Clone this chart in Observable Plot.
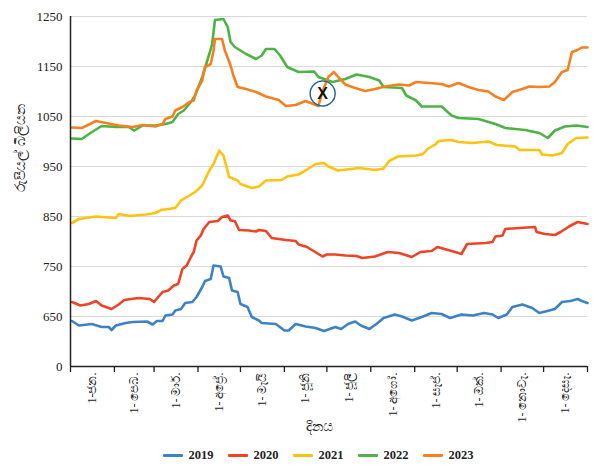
<!DOCTYPE html>
<html>
<head>
<meta charset="utf-8">
<script src="https://cdn.jsdelivr.net/npm/d3@7"></script>
<script src="https://cdn.jsdelivr.net/npm/@observablehq/plot@0.6"></script>
<style>
  body { margin: 0; background: #fff; }
  #legend { display: flex; justify-content: center; height: 30px; align-items: center; font-family: "Liberation Serif", serif; font-weight: bold; font-size: 12.5px; color: #222; padding-left: 38px; }
  .item { display: flex; align-items: center; margin: 0 7px; }
  .sw { width: 20px; height: 3px; margin-right: 6px; border-radius: 1px; }
</style>
</head>
<body>
<div id="chart"></div>
<div id="legend"></div>
<script>
const seriesNames = ["2019", "2020", "2021", "2022", "2023"];
const seriesColors = ["#3d82c7", "#ef4324", "#ffc20e", "#4cb444", "#f6801f"];

const yTicks = [550, 650, 750, 850, 950, 1050, 1150, 1250];
const yTickLabels = ["0", "650", "750", "850", "950", "1050", "1150", "1250"];
const monthStarts = [0, 31, 59, 90, 120, 151, 181, 212, 243, 273, 304, 334, 365];
const monthMids = [15.5, 45, 74.5, 105, 135.5, 166, 196.5, 227.5, 258, 288.5, 319, 349.5];
const monthLabels = ["1-ජන.", "1- පෙබ.", "1- මාර්.", "1- අප්‍රේ.", "1- මැයි", "1- ජූනි", "1- ජූලි", "1- අගෝ.", "1- සැප්.", "1- ඔක්.", "1- නොවැ.", "1- දෙසැ."];

const days2019 = [1,6,15,22,27,29,32,39,44,54,58,61,65,67,72,74,78,81,86,89,93,95,99,101,106,108,112,114,118,120,125,128,133,135,145,151,154,159,166,173,179,182,187,191,196,201,205,211,216,221,229,234,241,248,255,262,268,276,284,292,298,302,308,312,319,326,331,338,342,347,353,358,361,365];
const values2019 = [641,632,635,629,629,623,632,637,639,640,634,641,641,652,654,662,665,677,679,689,709,721,725,752,750,730,727,702,699,675,669,649,642,637,635,622,622,635,630,627,621,624,629,625,635,640,632,625,635,647,654,650,642,649,657,655,647,654,652,657,654,647,654,669,674,667,657,662,665,679,681,685,681,677];

const days2020 = [1,7,13,18,22,29,34,38,48,56,59,65,69,73,76,79,82,85,87,89,92,94,98,104,107,111,113,116,119,126,131,133,138,142,152,159,161,167,171,178,181,187,194,202,206,215,224,232,241,247,255,259,274,276,280,293,298,300,305,307,317,328,329,335,342,346,352,358,365];
const values2020 = [679,672,675,681,672,665,674,683,687,685,679,699,702,712,715,745,752,769,779,802,812,825,839,841,849,852,842,841,823,822,820,823,821,807,803,801,794,789,782,770,774,774,772,771,767,770,779,777,769,779,781,789,777,775,795,797,799,810,812,825,827,829,819,815,813,819,830,839,835];

const days2021 = [1,6,18,32,34,42,53,60,64,74,78,84,88,93,98,101,105,108,112,118,120,128,133,138,149,153,161,166,173,179,182,189,204,215,221,225,231,244,249,252,258,260,269,274,284,295,301,314,317,331,333,340,347,351,357,365];
const values2021 = [837,845,850,847,855,851,854,857,863,867,882,892,899,912,942,955,982,972,929,922,915,907,910,922,923,930,934,942,955,957,950,942,947,943,946,961,970,972,975,985,995,1001,1003,999,997,1000,993,990,983,983,974,972,977,995,1007,1008];

const days2022 = [1,8,13,18,22,32,41,45,51,60,67,72,76,80,85,88,93,98,100,102,108,111,113,116,124,131,135,138,144,148,153,161,172,175,182,185,194,202,211,218,221,234,237,244,248,262,269,274,288,300,307,321,331,337,342,349,357,365];
const values2022 = [1006,1005,1015,1024,1031,1029,1029,1022,1032,1032,1035,1039,1055,1062,1079,1092,1129,1175,1195,1243,1245,1229,1199,1189,1175,1165,1172,1185,1185,1172,1149,1139,1140,1129,1122,1119,1125,1134,1129,1122,1109,1107,1092,1082,1070,1070,1052,1047,1045,1035,1027,1023,1017,1007,1022,1030,1032,1029];

const days2023 = [1,8,18,25,34,44,51,60,65,67,72,74,79,84,87,89,93,95,99,101,102,107,109,113,115,118,124,131,138,147,152,159,166,175,178,182,186,189,194,201,208,215,222,232,239,244,253,262,267,274,281,288,295,300,306,312,319,324,331,338,342,347,351,354,358,361,365];
const values2023 = [1028,1027,1041,1037,1032,1029,1033,1030,1035,1045,1050,1062,1069,1079,1082,1102,1122,1149,1155,1182,1205,1205,1182,1152,1132,1109,1105,1099,1090,1083,1071,1073,1081,1071,1100,1129,1139,1129,1114,1107,1101,1105,1110,1114,1112,1119,1117,1115,1110,1117,1109,1103,1100,1090,1083,1099,1105,1110,1109,1110,1119,1139,1143,1179,1183,1188,1188];

const markerDay = 178;
const markerValue = 1096;

const allDays = [days2019, days2020, days2021, days2022, days2023];
const allValues = [values2019, values2020, values2021, values2022, values2023];
const rows = [];
seriesNames.forEach((s, k) => {
  allDays[k].forEach((d, i) => rows.push({series: s, day: d, value: allValues[k][i]}));
});

const chart = Plot.plot({
  width: 598,
  height: 440,
  marginLeft: 70,
  marginRight: 11,
  marginTop: 16,
  marginBottom: 74,
  style: {background: "#fff", color: "#222", fontFamily: "Liberation Serif, Times New Roman, serif"},
  x: {domain: [0, 365], axis: null},
  y: {domain: [550, 1250], axis: null},
  color: {domain: seriesNames, range: seriesColors},
  marks: [
    Plot.ruleY(yTicks.slice(1), {stroke: "#d9d9d9", strokeWidth: 1.2}),
    Plot.line(rows, {x: "day", y: "value", z: "series", stroke: "series", strokeWidth: 2.6, strokeLinejoin: "round"}),
    Plot.ruleY([550], {stroke: "#222", strokeWidth: 1.5}),
    Plot.ruleX([0], {stroke: "#222", strokeWidth: 1.5}),
    Plot.axisY({ticks: yTicks, tickSize: 0, tickPadding: 8, label: null, tickFormat: d => yTickLabels[yTicks.indexOf(d)], fontSize: 13}),
    Plot.axisX({ticks: monthStarts, tickSize: 6, label: null, tickFormat: () => "", strokeWidth: 1.3}),
    Plot.axisX({ticks: monthMids, tickSize: 0, tickPadding: 6, label: null, tickRotate: -90, tickFormat: d => monthLabels[monthMids.indexOf(d)], fontSize: 12}),
    Plot.text(["දිනය"], {frameAnchor: "bottom", dy: 64, dx: -10, fontSize: 14, fill: "#222"}),
    Plot.text(["රුපියල් බිලියන"], {frameAnchor: "left", dx: -50, rotate: -90, fontSize: 14, fill: "#222"}),
    Plot.dot([{day: markerDay, value: markerValue}], {x: "day", y: "value", r: 12.5, stroke: "#2a6791", strokeWidth: 1.5, fill: "none"}),
    Plot.text([{day: markerDay, value: markerValue}], {x: "day", y: "value", text: () => "X", fontSize: 16, fontWeight: "bold", fontFamily: "Liberation Sans, Arial, sans-serif", fill: "#111"})
  ]
});
document.getElementById("chart").appendChild(chart);

const legend = document.getElementById("legend");
seriesNames.forEach((s, i) => {
  const item = document.createElement("div");
  item.className = "item";
  const sw = document.createElement("span");
  sw.className = "sw";
  sw.style.background = seriesColors[i];
  const t = document.createElement("span");
  t.textContent = s;
  item.appendChild(sw);
  item.appendChild(t);
  legend.appendChild(item);
});
</script>
</body>
</html>
